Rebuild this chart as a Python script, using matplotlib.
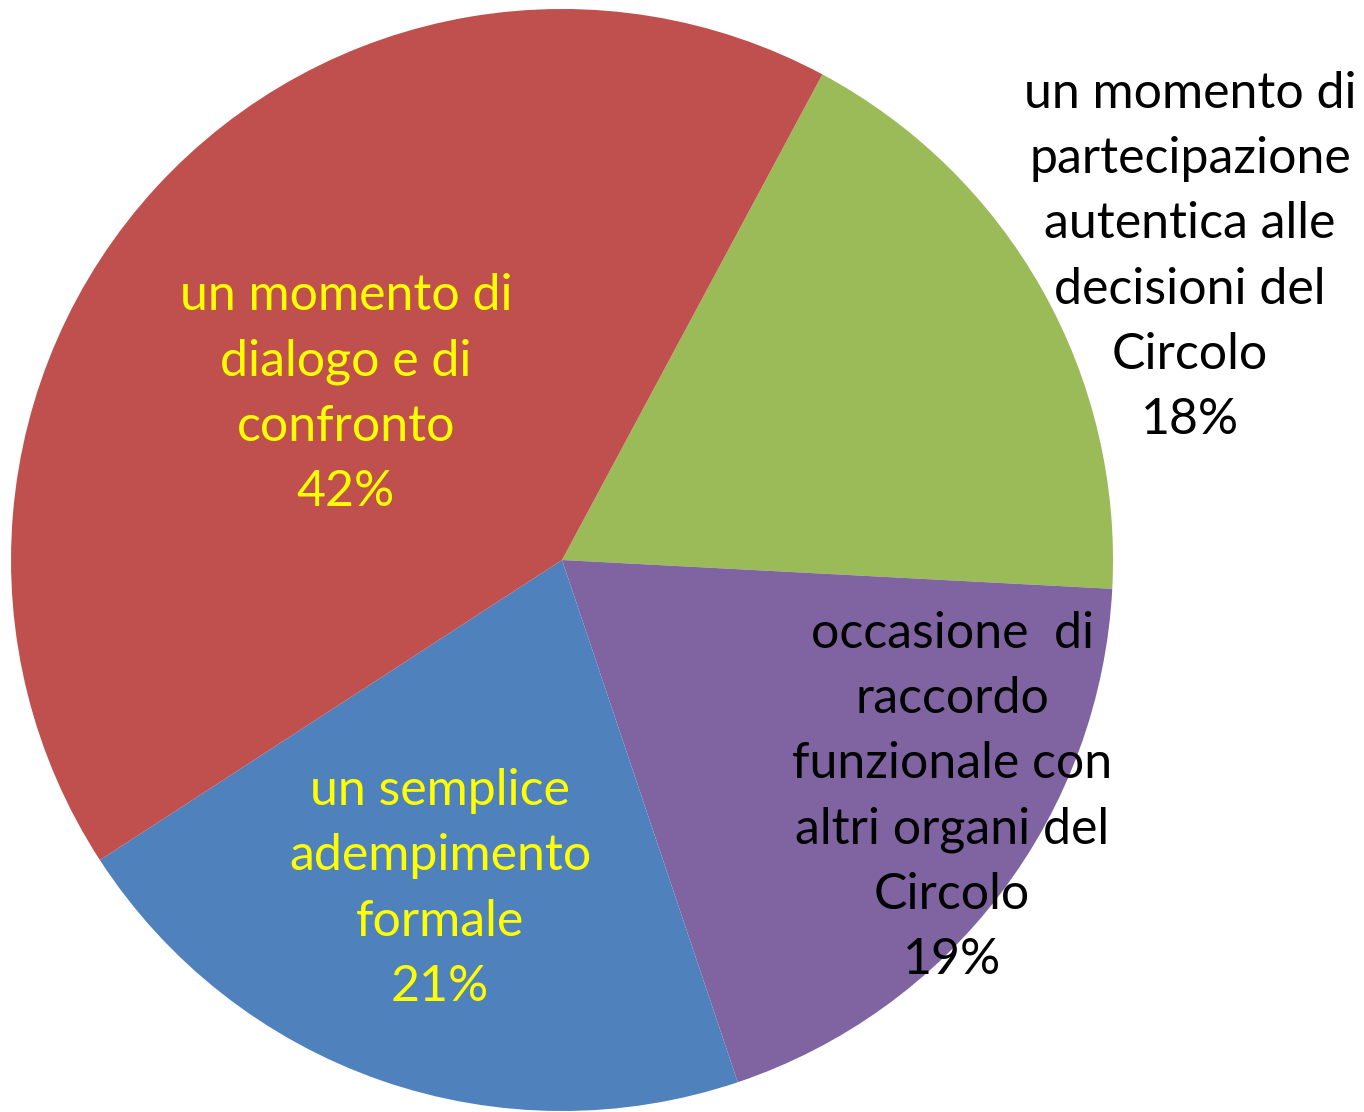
import numpy as np
import matplotlib.pyplot as plt

labels = ['un momento di\npartecipazione\nautentica alle\ndecisioni del\nCircolo',
          'occasione  di\nraccordo\nfunzionale con\naltri organi del\nCircolo',
          'un semplice\nadempimento\nformale',
          'un momento di\ndialogo e di\nconfronto']
shares = [18, 19, 21, 42]
colors = ['#9BBB59', '#8064A2', '#4F81BD', '#C0504D']
text_colors = ['black', 'black', '#FFFF00', '#FFFF00']
# label centres, in units of the pie radius
label_pos = [(1.140, 0.550), (0.708, -0.430), (-0.221, -0.597), (-0.392, 0.301)]

plt.rcParams['font.family'] = ['Lato', 'DejaVu Sans']

fig = plt.figure(figsize=(13.64, 11.12), dpi=100)
ax = fig.add_axes([0, 0, 1, 1])
ax.pie(shares, colors=colors, startangle=61.8, counterclock=False,
       radius=1, center=(0, 0), wedgeprops={'linewidth': 0})
ax.set_xlim(-1.020, 1.4555)
ax.set_ylim(-1.0018, 1.0163)
ax.set_aspect('auto')
ax.axis('off')

for lab, val, tc, (x, y) in zip(labels, shares, text_colors, label_pos):
    ax.text(x, y, lab + '\n' + str(val) + '%', ha='center', va='center',
            color=tc, fontsize=36, linespacing=1.52)

fig.savefig('out.png', dpi=100)
